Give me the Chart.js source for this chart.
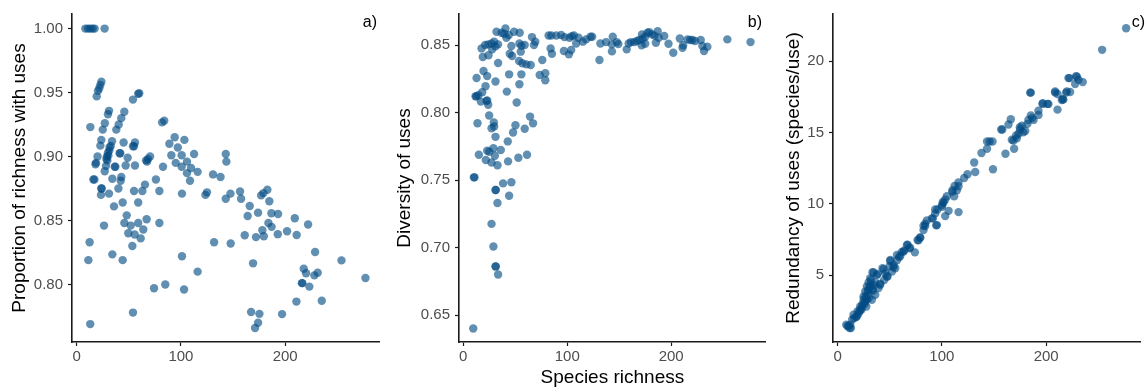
<!DOCTYPE html>
<html>
<head>
<meta charset="utf-8">
<script src="https://cdn.jsdelivr.net/npm/chart.js@4/dist/chart.umd.min.js"></script>
<style>
  html, body { margin: 0; padding: 0; background: #ffffff; }
  #wrap { position: relative; width: 1146px; height: 388px; overflow: hidden; }
  canvas { position: absolute; top: 0; }
</style>
</head>
<body>
<div id="wrap">
  <canvas id="ca" width="385" height="388" style="left:0px"></canvas>
  <canvas id="cb" width="385" height="388" style="left:385px"></canvas>
  <canvas id="cc" width="376" height="388" style="left:770px"></canvas>
</div>
<script>
// ---------- Data ----------
// Panel a: species richness vs proportion of richness with uses
const richnessA = [8.3,10.8,13.1,15.3,17.2,26.8,
  23.7,22.7,21.7,20.4,19.2, 54,59,60, 13.1,
  31,30,27,25,23.6,22.7,20,18.5,18,17,16,23.6,24,23.3,26.2,12.4,11.2,13,
  26.9,28.1,29.4,30.4,31.3,32.6,33.9,28.5,30,31.5,29,34.2,31,
  45.7,42.8,40.3,38,45,41.2,41.8,37.1,36.5,42.8,42.2,40,35.8,44.1,48.9,47,54,55,55.9,55.9,55,59,63,65.5,66.5,67.5,68.4,70.4,76,79.3,82.8,81.9,84,
  48,45.7,49.5,51.8,55.6,59,63.9,61.4,53.4,67.1,79.3,34.2,44.1,54,74.2,85,101,103,116,131.8,147.7,
  88.9,94,97,103.3,90.8,100.7,95,105.8,100.7,109.7,105.8,116,112.6,108.7,101,130.8,138,143,143.6,123.5,125,143,147.5,
  156.7,157.7,176.9,179.1,182.9,184.8,166,164,174,186.8,193.2,183.9,187,178.1,179.5,172,161.2,192.9,201.8,211,209.2,222,169.2,228.7,254,277,217.8,220,228,231.2,216,216.5,223.2,210.8,235.1,167.3,175.3,174,171.1,197];
const proportionA = [1.00,1.00,1.00,1.00,1.00,1.00,
  0.9585,0.956,0.9533,0.9513,0.947, 0.9445,0.949,0.9495, 0.923,
  0.9357,0.933,0.926,0.921,0.913,0.9085,0.900,0.895,0.894,0.882,0.882,0.875,0.875,0.870,0.846,0.833,0.819,0.769,
  0.8885,0.8927,0.8968,0.9007,0.9046,0.9082,0.9119,0.898,0.903,0.907,0.900,0.8826,0.871,
  0.935,0.930,0.925,0.921,0.911,0.9025,0.9025,0.892,0.892,0.884,0.881,0.875,0.861,0.864,0.899,0.893,0.908,0.908,0.911,0.893,0.873,0.864,0.873,0.878,0.897,0.896,0.898,0.900,0.882,0.873,0.892,0.9267,0.928,
  0.854,0.848,0.840,0.846,0.839,0.848,0.843,0.836,0.830,0.851,0.848,0.8235,0.819,0.778,0.797,0.800,0.822,0.796,0.810,0.833,0.832,
  0.910,0.915,0.907,0.913,0.901,0.901,0.895,0.896,0.892,0.891,0.887,0.888,0.902,0.881,0.871,0.886,0.884,0.902,0.896,0.870,0.872,0.867,0.871,
  0.8727,0.867,0.8696,0.8714,0.874,0.865,0.8613,0.8535,0.8561,0.8556,0.855,0.848,0.845,0.8424,0.8377,0.837,0.8385,0.8393,0.8416,0.8387,0.8517,0.8468,0.8165,0.8253,0.8188,0.805,0.8123,0.8087,0.8071,0.8092,0.801,0.801,0.7983,0.7866,0.7872,0.7784,0.777,0.770,0.766,0.7768];

// Panel b: species richness vs diversity of uses
const richnessB = [9.6,10.2,10.8,33.5,31,31.3,29,27.2,32.9,31,31.3,38.3,46.3,44.1,
  15,21.7,23,25,27.2,29,30.4,32.9,36.1,43.1,53,61.3,
  42.8,47.9,50.2,59.1,64.2,67.1,31,29.7,27.2,29.4,24.9,13.7,
  24,16.9,11.8,12.5,14.4,22.4,23,18.2,21.4,12.8,19.5,23,31,41.9,51.4,44.1,54,55.9,33.5,18.8,24.3,17.6,21,24,27.2,29.7,31,27.8,33.5,32,36.8,40.6,39.3,41.5,43.8,48.9,54.3,44.7,47,46.3,54,55.9,59.1,55.3,53.7,56.9,60.7,64.9,66.1,68,69.3,76,73.5,78.9,78.9,84,85.3,82.1,84.7,89.5,94.2,97.4,102.2,104.4,106.4,110.9,115,118.2,122.4,96.8,101.6,103.8,108.6,
  124,131,131.9,137.4,142.9,143.8,143,147.6,149.2,157.2,159.1,161.3,164.5,167,169.3,172.5,171.9,175,177.2,178.9,181.5,184,187,188,185.3,193.3,197.4,202,208.3,210.9,211.5,215.7,218.2,220.4,223,228.4,230,231.6,234.8,254,276.3,171.6,175];
const diversityB = [0.640,0.752,0.752,0.680,0.686,0.686,0.7007,0.7175,0.733,0.7426,0.7426,0.7475,0.7483,0.7384,
  0.7687,0.7648,0.7717,0.771,0.763,0.7736,0.768,0.761,0.7722,0.7638,0.7665,0.7687,
  0.7786,0.7852,0.7906,0.788,0.797,0.792,0.782,0.7896,0.7884,0.7926,0.7978,0.7921,
  0.8057,0.8081,0.812,0.812,0.8128,0.8085,0.809,0.815,0.8195,0.8256,0.8308,0.827,0.823,0.8155,0.8074,0.8283,0.821,0.8283,0.8367,0.8411,0.8424,0.8475,0.850,0.8505,0.8512,0.8525,0.849,0.8468,0.8505,0.8599,0.8591,0.8623,0.8584,0.8554,0.8574,0.8599,0.8591,0.8436,0.8419,0.8493,0.8512,0.8495,0.850,0.8451,0.8382,0.8365,0.8357,0.8352,0.8559,0.850,0.8525,0.8389,0.8278,0.8291,0.8239,0.8475,0.8436,0.8571,0.8571,0.8571,0.8574,0.8559,0.8554,0.8566,0.8571,0.8554,0.8525,0.8542,0.8562,0.8456,0.8431,0.8463,0.8512,
  0.8562,0.8389,0.8512,0.8522,0.8505,0.8562,0.8453,0.8522,0.8507,0.8468,0.8512,0.8522,0.8522,0.853,0.8537,0.8547,0.8579,0.8562,0.8591,0.8596,0.8579,0.857,0.8603,0.8554,0.8517,0.8567,0.851,0.8443,0.8549,0.848,0.8498,0.8542,0.8537,0.8537,0.853,0.8537,0.8493,0.8456,0.8488,0.8542,0.8522,0.8498,0.851];

// Panel c: species richness vs redundancy of uses (species/use)
const richnessC = [276.7,253.7,221.4,228.8,231,235.1,227.8,208.6,210.9,216,216.5,219.2,223,184.7,196.5,201.3,192.6,210.9,186.6,183,187.9,185.3,192.7,166.1,163.9,156.9,158,176.7,175.1,173.5,171.9,167.1,169.3,161,168.7,171.2,174.8,178,180,182,
  145.8,143.3,148.6,143.3,138,131,132,149,124.6,121.4,115.9,112.2,110,110.2,116,100,103.2,106.4,95.2,93.6,90.4,84,82.4,79.2,76.7,74.1,69,66.5,63.3,60.1,56.9,53.7,55.3,50.5,52.1,47.3,44.1,44.7,40.9,38.3,34.5,36.1,31.9,30.7,28.8,26.5,23.3,21.1,18.5,15.3,12.1,9.6,11.5,10.5,8.3,12.8,
  17.9,19.2,21.7,24.9,26.5,28.1,29.7,31.3,33.5,27.5,32.9,36.1,39.3,40.9,37.7,43.1,47.9,45.7,50.5,49.9,53.7,57,59.1,61.6,63.9,67.1,69.6,77.6,79.2,82.4,84,85.6,94.6,91.4,93.6,95.8,100,101.6,103.2,104.8,111.8,114.4,116,101,
  196.8,202.2,208.6,215,219.8,222.4,229.4,185.3,
  20,22,24,25,27,29,30,32,26,28,23,33,35,14,16,34,30];
const redundancyC = [22.3,20.79,18.81,18.95,18.7,18.53,18.4,17.79,17.7,17.35,17.3,17.79,17.84,17.79,17.0,17.0,16.53,16.6,16.02,15.88,15.88,16.19,16.23,15.93,15.56,15.21,15.21,15.47,15.21,14.91,14.6,14.49,13.86,13.51,14.44,14.79,15.37,15.02,15.1,15.6,
  14.37,14.37,14.37,13.86,13.56,12.9,12.23,12.42,12.07,11.81,11.49,11.26,10.84,10.95,9.42,9.79,9.14,9.51,8.51,9.6,8.98,8.44,8.16,7.65,7.47,6.6,6.88,7.12,6.65,6.35,6.42,5.72,5.49,6.07,5.26,4.91,5.42,4.67,4.33,5.09,5.19,4.49,4.67,4.21,3.63,3.16,2.81,2.47,2.12,2.23,1.53,1.42,1.3,1.47,1.53,1.3,
  2.07,2.47,2.81,3.51,3.86,4.21,4.49,4.79,5.21,2.81,3.28,3.63,4.1,4.4,5.02,5.49,4.91,5.14,6.0,5.63,5.58,6.05,6.28,6.63,6.74,7.14,6.93,7.44,7.63,8.47,8.6,8.84,8.49,8.98,9.33,9.6,9.91,10.07,10.3,10.53,10.53,10.95,11.23,10.14,
  17.05,17.0,17.88,17.28,17.88,18.81,18.9,17.79,
  2.3,2.6,3.0,3.3,3.5,3.9,4.0,4.3,3.0,3.3,2.6,4.0,4.3,1.9,2.0,3.9,3.4];

const xTicksAll = [0, 100, 200];
const yTicksA = [0.80, 0.85, 0.90, 0.95, 1.00];
const yTicksB = [0.65, 0.70, 0.75, 0.80, 0.85];
const yTicksC = [5, 10, 15, 20];

// ---------- Styling ----------
const FONT = "'Liberation Sans', Arial, sans-serif";
const POINT = 'rgba(0,75,130,0.62)';
const TICK_COLOR = '#4d4d4d';
const AXIS_COLOR = '#1a1a1a';

function pts(xs, ys) { return xs.map((x, i) => ({x: x, y: ys[i]})); }

const panelLabel = {
  id: 'panelLabel',
  afterDraw(chart, args, opts) {
    const ctx = chart.ctx;
    ctx.save();
    ctx.font = '16px ' + FONT;
    ctx.fillStyle = '#000';
    ctx.textAlign = 'right';
    ctx.textBaseline = 'middle';
    ctx.fillText(opts.text, opts.x, opts.y);
    ctx.restore();
  }
};

function makeChart(id, cfg) {
  const yTickSet = cfg.yTicks;
  return new Chart(document.getElementById(id), {
    type: 'scatter',
    data: {
      datasets: [{
        data: pts(cfg.xs, cfg.ys),
        backgroundColor: POINT,
        borderWidth: 0,
        pointRadius: 4.2,
        pointHoverRadius: 4.2
      }]
    },
    options: {
      responsive: false,
      animation: false,
      events: [],
      layout: { padding: { top: 12, right: cfg.padRight, left: 0, bottom: 0 } },
      plugins: {
        legend: { display: false },
        tooltip: { enabled: false },
        panelLabel: cfg.label
      },
      scales: {
        x: {
          type: 'linear',
          min: cfg.xMin, max: cfg.xMax,
          afterFit(s) { s.height = 46; },
          afterBuildTicks(s) { s.ticks = xTicksAll.map(v => ({value: v})); },
          ticks: { font: { family: FONT, size: 15 }, color: TICK_COLOR, padding: 2, maxRotation: 0,
                   callback: v => String(v) },
          grid: { display: true, drawOnChartArea: false, drawTicks: true, tickLength: 4, tickWidth: 1.2, tickColor: AXIS_COLOR },
          border: { display: true, color: AXIS_COLOR, width: 1.6 },
          title: { display: !!cfg.xTitle, text: cfg.xTitle || '', color: '#000',
                   font: { family: FONT, size: 19, lineHeight: 1.1 }, padding: { top: 0, bottom: 0 } }
        },
        y: {
          type: 'linear',
          min: cfg.yMin, max: cfg.yMax,
          afterFit(s) { s.width = cfg.yWidth; },
          afterBuildTicks(s) { s.ticks = yTickSet.map(v => ({value: v})); },
          ticks: { font: { family: FONT, size: 15 }, color: TICK_COLOR, padding: 5,
                   callback: v => cfg.yDec ? Number(v).toFixed(cfg.yDec) : String(v) },
          grid: { display: true, drawOnChartArea: false, drawTicks: true, tickLength: 4, tickWidth: 1.2, tickColor: AXIS_COLOR },
          border: { display: true, color: AXIS_COLOR, width: 1.6 },
          title: { display: true, text: cfg.yTitle, color: '#000',
                   font: { family: FONT, size: 19, lineHeight: 1.1 }, padding: { top: cfg.yTitlePad, bottom: 0 } }
        }
      }
    },
    plugins: [panelLabel]
  });
}

makeChart('ca', {
  xs: richnessA, ys: proportionA, yTicks: yTicksA, yDec: 2,
  xMin: -4.5, xMax: 290, yMin: 0.755, yMax: 1.0114,
  yWidth: 72, padRight: 6, yTitle: 'Proportion of richness with uses', yTitlePad: 9,
  label: { text: 'a)', x: 377, y: 23 }
});
makeChart('cb', {
  xs: richnessB, ys: diversityB, yTicks: yTicksB, yDec: 2,
  xMin: -4.1, xMax: 291, yMin: 0.630, yMax: 0.873,
  yWidth: 74, padRight: 3, yTitle: 'Diversity of uses', yTitlePad: 9, xTitle: 'Species richness',
  label: { text: 'b)', x: 377, y: 23 }
});
makeChart('cc', {
  xs: richnessC, ys: redundancyC, yTicks: yTicksC, yDec: 0,
  xMin: -4.4, xMax: 290, yMin: 0.32, yMax: 23.3,
  yWidth: 63, padRight: 6, yTitle: 'Redundancy of uses (species/use)', yTitlePad: 13,
  label: { text: 'c)', x: 375, y: 23 }
});
</script>
</body>
</html>
